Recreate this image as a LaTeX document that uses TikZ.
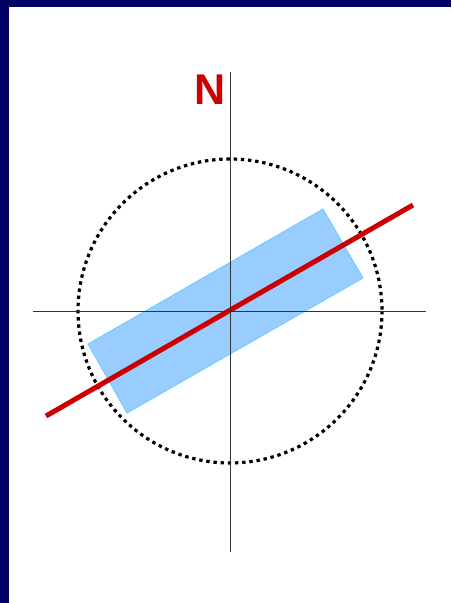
\documentclass[tikz,border=0pt]{standalone}
\usepackage{fontspec}
\setmainfont{Liberation Sans}
\definecolor{navy}{HTML}{000066}
\definecolor{redline}{HTML}{CC0000}
\definecolor{bluefill}{HTML}{99CCFF}
\definecolor{blueedge}{HTML}{66CCFF}
\tikzset{
  axis/.style={line width=1pt, draw=black!80},
  dotcircle/.style={line width=3.2pt, draw=black, dash pattern=on 3.4pt off 3.8pt},
  strip/.style={fill=bluefill, draw=blueedge, line width=0.8pt},
  bearing/.style={line width=5pt, draw=redline},
}
\begin{document}
\begin{tikzpicture}[x=1pt,y=-1pt]
\useasboundingbox (0,0) rectangle (451,603);
\fill[white] (0,0) rectangle (451,603);
\fill[navy] (0,0) rectangle (451,7);
\fill[navy] (0,0) rectangle (9,603);
\coordinate (c) at (230,311);
\draw[dotcircle] (c) circle[radius=152];
\draw[strip] (88,344) -- (323,209) -- (363,278) -- (127,413) -- cycle;
\coordinate (r1) at (46,416);
\coordinate (r2) at (413,205);
\draw[bearing] (r1) -- (r2);
\coordinate (vt) at (230,72);
\coordinate (vb) at (230,552);
\coordinate (hl) at (33,311);
\coordinate (hr) at (426,311);
\draw[axis] (vt) -- (vb);
\draw[axis] (hl) -- (hr);
\node[text=redline, font=\bfseries\fontsize{43}{43}\selectfont, inner sep=0pt] (n) at (210,90) {N};
\end{tikzpicture}
\end{document}
